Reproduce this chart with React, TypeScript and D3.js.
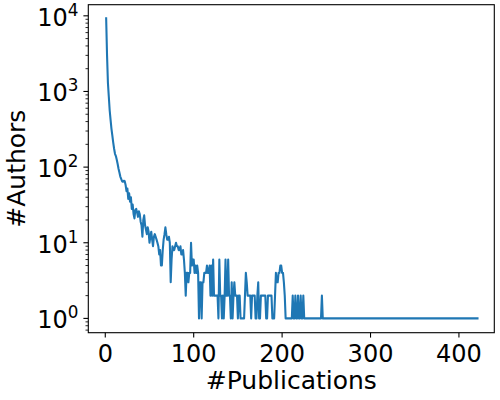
import React from "react";
import * as d3 from "d3";

const denseCounts: number[] = [
  9300, 3000, 1300, 850, 560, 420, 320, 260, 210, 175,
  150, 140, 125, 110, 95, 85, 75, 70, 65, 64,
  66, 65, 58, 48, 52, 38, 45, 35, 40, 28,
  32, 24, 21, 27, 28, 25, 22, 26, 24, 19,
  17, 12, 20, 23, 17, 15, 13, 16, 14, 10,
  12, 14, 11, 9, 12, 13, 12, 11, 10, 9,
  7, 8, 5, 5, 8, 11, 13, 16, 13, 11,
  11, 12, 10, 3, 6, 9, 8, 8, 9, 10,
  9, 9, 8, 8, 9, 7, 7, 8, 6, 4,
  2, 4, 4, 3, 4, 4, 10, 5, 6, 6,
  4, 5, 4, 5, 4, 1, 3, 3, 1, 3,
  3, 4, 4, 4, 5, 4, 4, 5, 2, 5,
  2, 6, 2, 2, 2, 2, 2, 1, 6, 2,
  2, 1, 2, 1, 2, 6, 2, 2, 6, 2,
  2, 1, 3, 1, 2, 3, 2, 2, 2, 1,
  2, 2, 1, 1, 1, 1, 1, 2, 4, 3,
  2, 2, 2, 2, 1, 2, 2, 2, 2, 1,
  1, 2, 3, 1, 1, 2, 2, 2, 2, 2,
  2, 1, 1, 2, 2, 2, 2, 2, 1, 1,
  1, 2, 4, 3, 3, 4, 4, 5, 5, 4,
  4, 3, 2, 1, 1, 1, 1, 1, 1, 1,
  1, 2, 1, 1, 2, 1, 1, 2, 1, 1,
  2, 1, 1, 2, 1, 1, 1, 1, 1, 1,
  1, 1, 1, 1, 1, 1, 1, 1, 1, 1,
  1, 1, 1, 1, 2, 1, 1, 1, 1, 1,
];
const tailPubs: number[] = [262, 280, 301, 330, 360, 421];
const tailCounts: number[] = [1, 1, 1, 1, 1, 1];

const xTicks: number[] = [0, 100, 200, 300, 400];
const yExponents: number[] = [0, 1, 2, 3, 4];
const xLabel = "#Publications";
const yLabel = "#Authors";

type P = { x: number; y: number };

const points: P[] = [
  ...denseCounts.map((c, i) => ({ x: i + 1, y: c })),
  ...tailPubs.map((x, i) => ({ x, y: tailCounts[i] })),
];

export default function App() {
  const W = 500, H = 400;
  const left = 88.3, right = 494.3, top = 4.7, bottom = 332.7;
  const x = d3.scaleLinear().domain([-19.2, 440]).range([left, right]);
  const y = d3.scaleLog().domain([Math.pow(10, -0.189), Math.pow(10, 4.147)]).range([bottom, top]);
  const line = d3.line<P>().x((d) => x(d.x)).y((d) => y(d.y));
  const font = "DejaVu Sans, sans-serif";
  const [y0, y1] = y.domain();
  const minor: number[] = [];
  for (let e = -1; e <= 4; e++) {
    for (let m = 2; m <= 9; m++) {
      const v = m * Math.pow(10, e);
      if (v >= y0 && v <= y1) minor.push(v);
    }
  }
  return (
    <svg width={W} height={H} style={{ position: "absolute", left: 0, top: 0, background: "#fff" }}>
      <rect x={0} y={0} width={W} height={H} fill="#fff" />
      <path d={line(points) || ""} fill="none" stroke="#1f77b4" strokeWidth={2.08} strokeLinejoin="round" strokeLinecap="square" />
      <rect x={left} y={top} width={right - left} height={bottom - top} fill="none" stroke="#000" strokeWidth={1.1} />
      {xTicks.map((t) => (
        <g key={"x" + t}>
          <line x1={x(t)} x2={x(t)} y1={bottom} y2={bottom + 4.9} stroke="#000" strokeWidth={1.1} />
          <text x={x(t)} y={362} textAnchor="middle" fontFamily={font} fontSize={24} fill="#000">{t}</text>
        </g>
      ))}
      {minor.map((v, i) => (
        <line key={"m" + i} x1={left - 2.8} x2={left} y1={y(v)} y2={y(v)} stroke="#000" strokeWidth={0.84} />
      ))}
      {yExponents.map((e) => {
        const v = Math.pow(10, e);
        return (
          <g key={"y" + e}>
            <line x1={left - 4.9} x2={left} y1={y(v)} y2={y(v)} stroke="#000" strokeWidth={1.1} />
            <text x={78.5} y={y(v) + 10} textAnchor="end" fontFamily={font} fontSize={24} fill="#000">
              <tspan>10</tspan>
              <tspan fontSize={16.8} dy={-10}>{e}</tspan>
            </text>
          </g>
        );
      })}
      <text x={(left + right) / 2} y={389} textAnchor="middle" fontFamily={font} fontSize={25} fill="#000">{xLabel}</text>
      <text transform={`translate(25,${(top + bottom) / 2}) rotate(-90)`} textAnchor="middle" fontFamily={font} fontSize={25} fill="#000">{yLabel}</text>
    </svg>
  );
}
